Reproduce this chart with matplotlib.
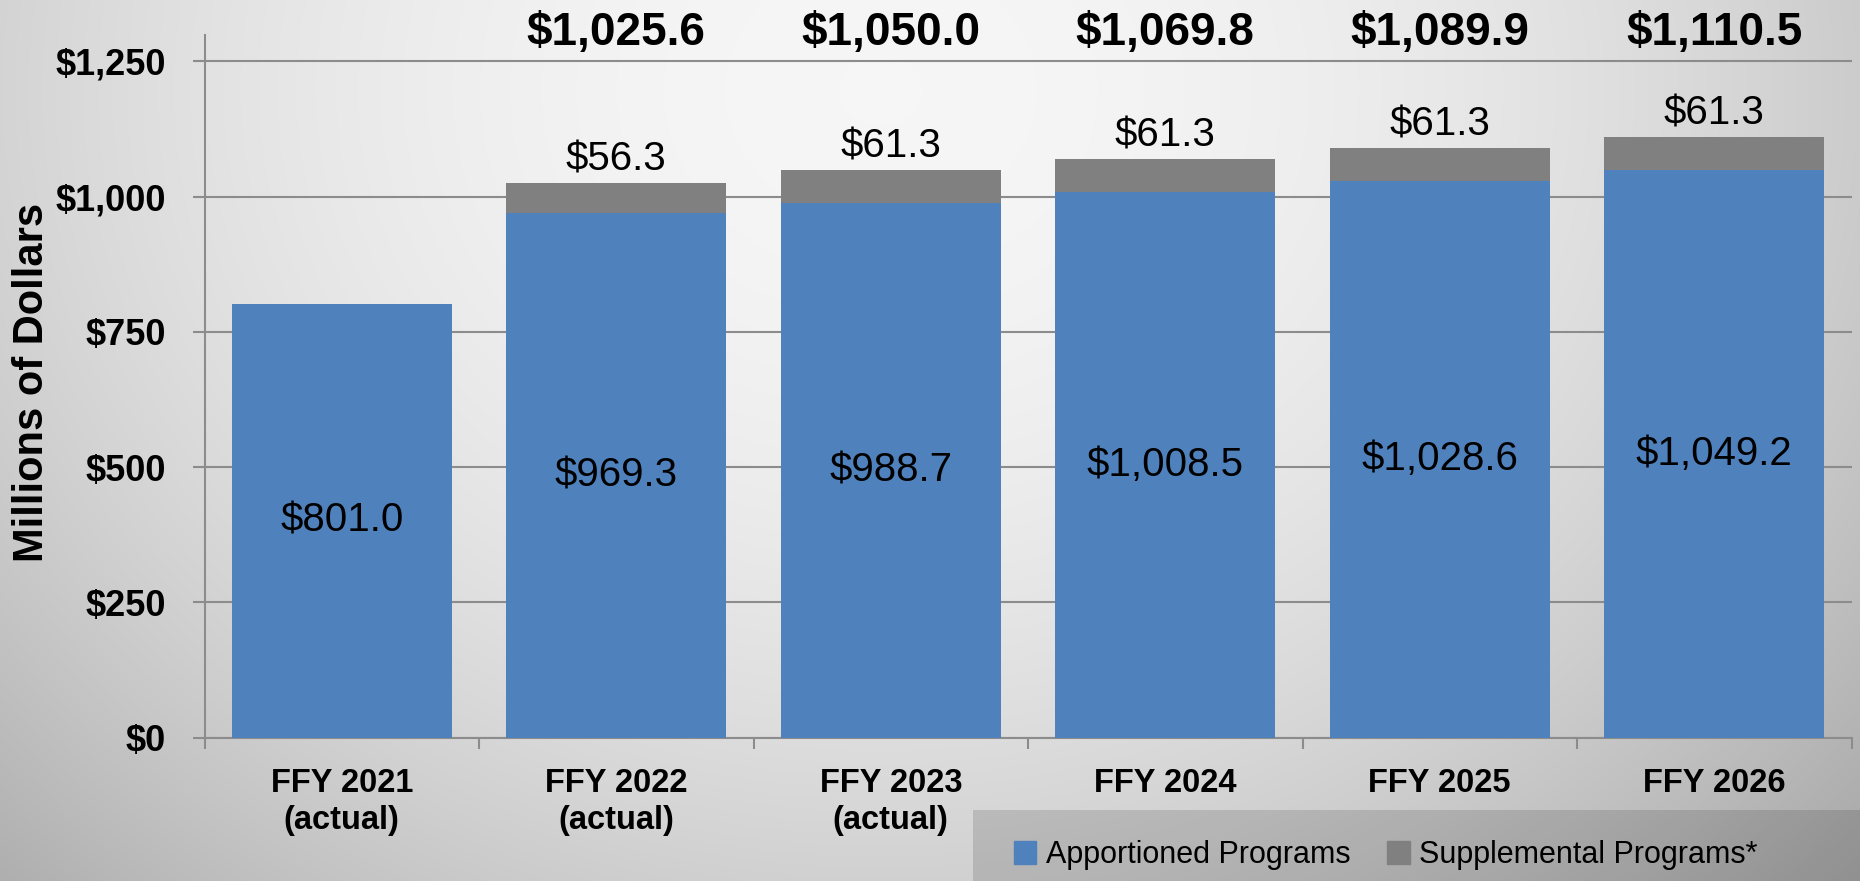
import numpy as np
import matplotlib.pyplot as plt
import matplotlib.transforms as mtransforms
from matplotlib.patches import Patch, Rectangle

# ---------------------------------------------
# data (millions of dollars)
# ---------------------------------------------
categories = ["FFY 2021\n(actual)", "FFY 2022\n(actual)", "FFY 2023\n(actual)",
              "FFY 2024", "FFY 2025", "FFY 2026"]
apportioned = [801.0, 969.3, 988.7, 1008.5, 1028.6, 1049.2]
supplemental = [0.0, 56.3, 61.3, 61.3, 61.3, 61.3]
y_ticks = [0, 250, 500, 750, 1000, 1250]

blue = "#4F81BD"
grey = "#808080"

# narrow bold font for axis text if it is there
narrow = ["Liberation Sans Narrow", "Liberation Sans", "DejaVu Sans"]
plain = ["Liberation Sans", "Arial", "DejaVu Sans"]

W, H = 1860, 881
fig = plt.figure(figsize=(W / 100, H / 100), dpi=100)

# background: soft grey radial-ish gradient
bg = fig.add_axes([0, 0, 1, 1], zorder=-10)
yy, xx = np.mgrid[0:H, 0:W]
d2 = ((xx - 880) / 930.0) ** 2 + ((yy - 90) / 800.0) ** 2
shade = np.clip(0.965 - 0.15 * d2, 0, 1)
bg.imshow(np.dstack([shade] * 3), aspect="auto", extent=[0, 1, 0, 1])
bg.set_axis_off()

ax = fig.add_axes([204.5 / W, 1 - 737.5 / H, 1647 / W, 702.5 / H])
ax.patch.set_alpha(0)

x = np.arange(len(categories))
ax.bar(x, apportioned, width=0.8, color=blue, zorder=3)
ax.bar(x, supplemental, width=0.8, bottom=apportioned, color=grey, zorder=3)

ax.set_xlim(-0.5, len(categories) - 0.5)
ax.set_ylim(0, 1299)
ax.set_axisbelow(True)
ax.grid(axis="y", color="#8c8c8c", linewidth=1.5, zorder=0)

ax.set_yticks(y_ticks)
ax.set_yticklabels(["${:,}".format(v) for v in y_ticks],
                   fontfamily=narrow, fontweight="bold", fontsize=26)
ax.tick_params(axis="y", length=9, width=1.5, color="#8c8c8c", pad=19)

ax.set_xticks(x)
ax.set_xticklabels(categories, fontfamily=narrow, fontweight="bold",
                   fontsize=23.5, linespacing=1.25)
ax.set_xticks(np.arange(len(categories) + 1) - 0.5, minor=True)
ax.tick_params(axis="x", which="major", length=0, pad=22)
ax.tick_params(axis="x", which="minor", length=8, width=1.5, color="#8c8c8c")

for s in ["top", "right"]:
    ax.spines[s].set_visible(False)
for s in ["left", "bottom"]:
    ax.spines[s].set_color("#8c8c8c")
    ax.spines[s].set_linewidth(1.5)

# totals row sits above the plot area
top_row = mtransforms.blended_transform_factory(ax.transData, fig.transFigure)

# value labels
for i in range(len(categories)):
    ax.text(x[i], apportioned[i] / 2, "${:,.1f}".format(apportioned[i]),
            ha="center", va="center", fontsize=29, fontfamily=plain, zorder=4)
    if supplemental[i] > 0:
        top = apportioned[i] + supplemental[i]
        ax.annotate("${:,.1f}".format(supplemental[i]), (x[i], top),
                    xytext=(0, 9), textcoords="offset points",
                    ha="center", va="baseline", fontsize=29, fontfamily=plain)
        ax.text(x[i], 1 - 45 / H, "${:,.1f}".format(top), transform=top_row,
                ha="center", va="baseline", fontsize=33, fontweight="bold",
                fontfamily=plain)

fig.text(32 / W, 1 - 382 / H, "Millions of Dollars", rotation=90,
         ha="center", va="center", fontsize=30, fontweight="bold", fontfamily=plain)

# legend strip at the bottom right
fig.patches.append(Rectangle((973 / W, 0), 1 - 973 / W, 71 / H,
                             transform=fig.transFigure, facecolor="black",
                             alpha=0.13, edgecolor="none"))
handles = [Patch(color=blue), Patch(color=grey)]
fig.legend(handles, ["Apportioned Programs", "Supplemental Programs*"],
           loc="center left", bbox_to_anchor=(986 / W, 1 - 855 / H),
           ncol=2, frameon=False, handlelength=0.75, handleheight=0.75,
           handletextpad=0.3, columnspacing=1.2,
           prop={"family": plain, "size": 22})

fig.savefig("out.png", dpi=100)
